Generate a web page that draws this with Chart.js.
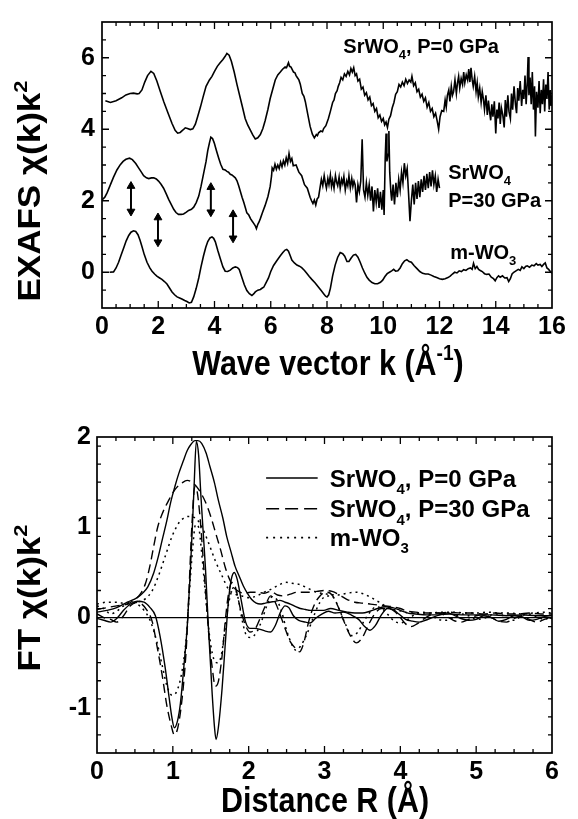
<!DOCTYPE html>
<html>
<head>
<meta charset="utf-8">
<script src="https://cdn.jsdelivr.net/npm/chart.js@4.4.1/dist/chart.umd.min.js"></script>
<style>
  html, body { margin: 0; padding: 0; background: #fff; }
  canvas { position: absolute; left: 0; }
</style>
</head>
<body>
<canvas id="exafs" width="578" height="410" style="top:0"></canvas>
<canvas id="ft" width="578" height="409" style="top:410px"></canvas>
<script>
// ---------------- DATA: top panel (k, chi(k)k^2 with offsets) ----------------
const exafsP0 = [
[0.12,4.80],[0.3,4.75],[0.5,4.80],[0.7,4.88],[0.85,4.96],[1.0,5.00],[1.12,5.01],[1.25,4.99],[1.32,5.00],[1.42,5.10],
[1.52,5.32],[1.62,5.50],[1.74,5.62],[1.84,5.56],[1.95,5.35],[2.07,5.06],[2.2,4.76],[2.35,4.45],[2.49,4.16],[2.6,3.97],
[2.69,3.89],[2.78,3.91],[2.88,3.98],[2.96,4.04],[3.04,4.02],[3.14,3.99],[3.23,4.01],[3.32,4.14],[3.4,4.35],[3.5,4.62],
[3.6,4.92],[3.7,5.2],[3.82,5.38],[3.91,5.48],[4.0,5.62],[4.1,5.76],[4.2,5.86],[4.3,5.95],[4.38,6.04],[4.44,6.12],
[4.52,6.07],[4.6,5.9],[4.7,5.6],[4.8,5.25],[4.92,4.86],[5.0,4.6],[5.09,4.3],[5.18,4.12],[5.27,3.98],[5.36,3.84],
[5.45,3.73],[5.54,3.76],[5.63,3.85],[5.72,4.02],[5.8,4.24],[5.9,4.56],[5.98,4.86],[6.07,5.12],[6.16,5.38],[6.25,5.52],
[6.34,5.6],[6.42,5.68],[6.51,5.74],[6.56,5.72],[6.6,5.8],[6.63,5.86],[6.67,5.76],[6.72,5.74],[6.81,5.6],[6.86,5.58],
[6.9,5.5],[6.95,5.44],[7.0,5.38],[7.05,5.26],[7.12,5.0],[7.18,4.92],[7.23,4.77],[7.32,4.4],[7.4,4.08],[7.48,3.86],
[7.55,3.76],[7.62,3.85],[7.66,3.82],[7.7,3.9],[7.78,3.95],[7.84,3.93],[7.88,4.02],[7.96,4.1],[8.05,4.3],[8.12,4.5],
[8.2,4.75],[8.25,4.82],[8.3,5.0],[8.36,5.08],[8.4,5.2],[8.45,5.3],
[8.5,5.45],[8.56,5.38],[8.62,5.55],[8.68,5.48],[8.74,5.62],[8.8,5.52],[8.85,5.7],[8.9,5.6],[8.95,5.72],[9.0,5.5],
[9.05,5.55],[9.1,5.35],[9.16,5.4],[9.22,5.12],[9.28,5.18],[9.34,4.95],[9.4,5.02],[9.46,4.82],[9.52,4.9],[9.58,4.66],
[9.64,4.72],[9.7,4.5],[9.76,4.58],[9.82,4.32],[9.88,4.4],[9.94,4.22],[10.0,4.3],[10.05,4.12],[10.1,4.2],[10.15,4.05],
[10.2,4.28],[10.26,4.38],[10.32,4.6],[10.38,4.75],[10.44,4.98],[10.5,5.05],[10.56,5.25],[10.62,5.18],[10.68,5.32],[10.74,5.22],
[10.8,5.4],[10.86,5.28],[10.92,5.38],[10.98,5.32],[11.02,5.48],[11.08,5.22],[11.14,5.3],[11.2,5.05],[11.26,5.12],[11.32,4.9],
[11.38,4.98],[11.44,4.78],[11.5,4.88],[11.56,4.62],[11.62,4.75],[11.68,4.5],[11.74,4.58],[11.8,4.35],[11.86,4.45],[11.92,4.22],
[11.97,4.0],[12.02,4.35],[12.08,4.52],
[12.15,4.5],[12.2,4.82],[12.24,4.62],[12.28,4.95],[12.33,5.1],[12.37,4.78],[12.42,5.2],[12.46,4.95],[12.5,5.05],[12.55,5.38],
[12.6,5.0],[12.64,5.3],[12.68,5.48],[12.72,5.15],[12.77,5.42],[12.82,5.25],[12.86,5.6],[12.9,5.3],[12.95,5.52],[13.0,5.38],
[13.04,5.68],[13.08,5.32],[13.12,5.72],[13.16,5.4],[13.2,5.2],[13.25,5.48],[13.3,5.05],[13.34,5.3],[13.38,4.9],[13.43,5.15],
[13.48,4.75],[13.52,5.05],[13.56,4.85],[13.6,4.55],[13.65,4.95],[13.7,4.4],[13.74,4.8],[13.78,4.5],[13.82,4.25],[13.86,4.7],
[13.9,4.35],[13.95,4.78],[14.0,3.88],[14.04,4.55],[14.08,4.3],[14.12,4.75],[14.16,4.15],[14.2,4.6],[14.25,4.4],[14.3,4.05],
[14.34,4.82],[14.38,4.35],[14.43,4.95],[14.47,4.5],[14.52,4.3],[14.56,5.0],[14.6,4.55],[14.65,5.2],[14.7,4.7],[14.74,4.45],
[14.78,5.15],[14.82,4.8],[14.87,5.35],[14.92,4.65],[14.96,5.1],[15.0,4.85],[15.04,5.5],[15.08,4.7],[15.12,5.3],[15.15,6.02],
[15.18,4.95],[15.22,5.45],[15.26,4.7],[15.3,5.6],[15.34,4.55],[15.38,5.2],[15.41,3.8],[15.45,5.05],[15.5,4.6],[15.54,5.35],
[15.58,4.45],[15.62,5.1],[15.66,4.7],[15.7,5.4],[15.74,4.5],[15.78,5.25],[15.82,4.85],[15.86,5.6],[15.9,4.55],[15.94,5.1],
[15.97,4.65],[16.0,4.95]
];
const exafsP30 = [
[0,2.02],[0.1,2.1],[0.18,2.22],[0.3,2.45],[0.41,2.66],[0.53,2.86],[0.65,3.01],[0.75,3.1],[0.85,3.16],[0.98,3.19],
[1.08,3.15],[1.2,3.04],[1.3,2.92],[1.4,2.8],[1.48,2.7],[1.58,2.64],[1.66,2.62],[1.76,2.64],[1.84,2.64],[1.93,2.61],
[2.01,2.55],[2.1,2.46],[2.19,2.35],[2.28,2.2],[2.37,2.04],[2.46,1.9],[2.55,1.76],[2.63,1.67],[2.72,1.62],[2.82,1.62],
[2.9,1.63],[3.0,1.68],[3.08,1.73],[3.18,1.76],[3.26,1.82],[3.35,1.95],[3.44,2.13],[3.52,2.4],[3.61,2.75],[3.7,3.1],
[3.76,3.4],[3.82,3.62],[3.87,3.78],[3.93,3.74],[3.99,3.62],[4.07,3.4],[4.15,3.19],[4.22,3.02],[4.3,2.88],[4.38,2.86],
[4.44,2.82],[4.5,2.8],[4.56,2.74],[4.62,2.72],[4.68,2.68],[4.74,2.64],[4.8,2.56],[4.86,2.42],[4.92,2.26],[4.98,2.1],
[5.04,1.96],[5.1,1.8],[5.15,1.66],[5.22,1.6],[5.28,1.5],[5.33,1.44],[5.4,1.36],[5.45,1.3],[5.49,1.22],[5.54,1.34],
[5.58,1.4],[5.63,1.5],[5.7,1.66],[5.8,1.87],[5.9,2.12],[5.98,2.4],[6.03,2.7],
[6.05,2.92],[6.1,2.85],[6.15,3.02],[6.2,2.88],[6.25,3.0],[6.3,2.9],[6.35,3.08],[6.4,2.95],[6.45,3.12],[6.5,3.0],
[6.55,3.2],[6.6,3.05],[6.65,3.32],[6.7,3.1],[6.75,3.18],[6.8,2.98],[6.9,3.0],[7.0,2.8],[7.1,2.7],[7.2,2.45],
[7.3,2.35],[7.4,2.1],[7.45,2.0],[7.5,1.92],[7.55,2.02],[7.6,1.88],[7.65,2.05],[7.7,2.1],[7.75,2.35],[7.8,2.6],
[7.85,2.42],[7.9,2.7],[7.94,2.5],[7.98,2.35],[8.03,2.62],[8.07,2.45],[8.12,2.72],[8.16,2.4],[8.2,2.58],[8.25,2.35],
[8.3,2.7],[8.34,2.52],[8.38,2.42],[8.43,2.66],[8.47,2.35],[8.52,2.6],[8.56,2.48],[8.6,2.68],[8.65,2.3],[8.7,2.55],
[8.74,2.42],[8.78,2.7],[8.83,2.36],[8.88,2.62],[8.92,2.4],[8.96,2.55],[9.0,2.45],[9.05,1.95],[9.1,2.45],[9.15,2.25],
[9.2,2.55],[9.25,3.72],[9.3,2.3],[9.35,2.1],[9.4,2.5],[9.45,2.15],[9.5,2.45],[9.55,2.0],[9.6,2.4],[9.65,1.7],
[9.7,2.3],[9.75,1.95],[9.8,2.35],[9.85,1.8],[9.9,2.25],[9.95,1.75],[10.0,2.3],[10.03,1.6],[10.07,3.2],[10.1,3.88],
[10.13,3.1],[10.17,3.3],[10.2,3.95],[10.23,2.8],[10.27,2.25],[10.3,2.0],[10.35,2.45],[10.4,1.9],[10.45,2.5],[10.5,2.1],
[10.55,2.6],[10.6,2.3],[10.65,2.8],[10.7,2.5],[10.75,3.05],[10.8,2.7],[10.85,2.9],[10.9,2.2],[10.95,1.43],[11.0,2.0],
[11.05,2.45],[11.1,1.9],[11.15,2.5],[11.2,2.05],[11.25,2.55],[11.3,2.1],[11.35,2.6],[11.4,2.25],[11.45,2.7],[11.5,2.3],
[11.55,2.75],[11.6,2.35],[11.65,2.8],[11.7,2.4],[11.75,2.85],[11.8,2.45],[11.85,2.7],[11.9,2.25],[11.95,2.6],[12.0,2.35]
];
const exafsWO3 = [
[0.27,0],[0.41,0.01],[0.5,0.12],[0.59,0.28],[0.68,0.48],[0.77,0.68],[0.86,0.88],[0.95,1.03],[1.03,1.12],[1.12,1.16],
[1.2,1.14],[1.28,1.05],[1.35,0.9],[1.42,0.72],[1.5,0.5],[1.6,0.28],[1.7,0.12],[1.78,0.03],[1.87,-0.05],[1.95,-0.11],
[2.05,-0.16],[2.13,-0.2],[2.22,-0.26],[2.31,-0.33],[2.4,-0.44],[2.49,-0.55],[2.58,-0.63],[2.67,-0.69],[2.76,-0.72],[2.84,-0.75],
[2.94,-0.79],[3.02,-0.82],[3.1,-0.86],[3.18,-0.84],[3.26,-0.69],[3.35,-0.45],[3.44,-0.16],[3.52,0.15],[3.61,0.46],[3.69,0.7],
[3.76,0.86],[3.84,0.96],[3.91,0.99],[3.97,0.95],[4.03,0.85],[4.12,0.6],[4.21,0.37],[4.3,0.15],[4.38,0.03],[4.47,0.02],
[4.56,0.06],[4.65,0.12],[4.74,0.15],[4.82,0.13],[4.88,0.08],[4.98,-0.16],[5.06,-0.35],[5.15,-0.51],[5.24,-0.6],[5.33,-0.65],
[5.4,-0.6],[5.45,-0.55],[5.54,-0.5],[5.63,-0.48],[5.7,-0.44],[5.75,-0.42],[5.83,-0.3],[5.92,-0.16],[6.0,0.02],[6.1,0.19],
[6.22,0.33],[6.34,0.46],[6.43,0.55],[6.51,0.62],[6.57,0.64],[6.63,0.59],[6.7,0.45],[6.75,0.34],[6.84,0.26],[6.93,0.2],
[7.02,0.17],[7.1,0.13],[7.2,0.05],[7.28,-0.03],[7.37,-0.12],[7.46,-0.2],[7.58,-0.3],[7.7,-0.42],[7.8,-0.52],[7.88,-0.6],
[7.95,-0.67],[8.0,-0.69],[8.06,-0.63],[8.12,-0.45],[8.2,-0.1],[8.29,0.2],[8.38,0.42],[8.47,0.55],[8.56,0.52],[8.63,0.45],
[8.71,0.3],[8.78,0.3],[8.86,0.4],[8.94,0.48],[9.02,0.5],[9.1,0.42],[9.18,0.28],[9.26,0.12],[9.34,-0.02],[9.42,-0.14],
[9.5,-0.22],[9.6,-0.29],[9.7,-0.32],[9.8,-0.32],[9.9,-0.28],[9.98,-0.22],[10.06,-0.12],[10.14,-0.04],[10.22,0.0],[10.3,0.04],
[10.37,0.08],[10.44,0.03],[10.52,0.04],[10.6,0.12],[10.68,0.24],[10.76,0.32],[10.84,0.35],[10.92,0.3],[11.0,0.28],[11.1,0.18],
[11.2,0.1],[11.3,0.02],[11.4,-0.03],[11.5,-0.05],[11.6,-0.05],[11.7,-0.08],[11.8,-0.12],[11.9,-0.15],[12.0,-0.18],[12.1,-0.2],
[12.2,-0.18],[12.3,-0.15],[12.38,-0.11],[12.46,-0.05],[12.54,0.0],[12.62,-0.02],[12.7,0.04],[12.78,0.02],[12.86,0.07],[12.94,0.05],
[13.02,0.1],[13.1,0.12],[13.16,0.08],[13.21,0.25],[13.27,0.1],[13.33,0.16],[13.39,0.08],[13.45,0.05],[13.52,0.02],[13.6,-0.04],
[13.68,-0.06],[13.76,-0.05],[13.84,-0.14],[13.92,-0.18],[13.98,-0.24],[14.04,-0.15],[14.1,-0.1],[14.16,-0.14],[14.24,-0.1],[14.32,-0.16],
[14.4,-0.15],[14.46,-0.26],[14.52,-0.18],[14.58,-0.05],[14.64,0.0],[14.72,0.04],[14.8,0.08],[14.87,0.05],[14.93,0.15],[15.0,0.1],
[15.06,0.16],[15.12,0.18],[15.2,0.14],[15.28,0.2],[15.36,0.18],[15.44,0.24],[15.5,0.2],[15.58,0.22],[15.64,0.16],[15.7,0.22],
[15.76,0.26],[15.82,0.12],[15.88,0.08],[15.94,0.02],[16.0,-0.03]
];
// double-headed arrows: k position, lower tip, upper tip
const arrowK    = [1.03, 1.99, 3.87, 4.66];
const arrowLow  = [1.58, 0.72, 1.56, 0.83];
const arrowHigh = [2.53, 1.65, 2.50, 1.74];
const topXTicks = [0, 2, 4, 6, 8, 10, 12, 14, 16];
const topYTicks = [0, 2, 4, 6];

// ---------------- DATA: bottom panel (R, FT modulus and imaginary part) ----------------
const ftP0Mag = [
[0,0.06],[0.13,0.08],[0.26,0.11],[0.4,0.17],[0.53,0.22],[0.6,0.27],[0.67,0.34],[0.75,0.5],[0.81,0.68],[0.86,0.86],
[0.92,1.07],[0.97,1.27],[1.03,1.46],[1.08,1.6],[1.14,1.74],[1.19,1.85],[1.24,1.92],[1.29,1.96],[1.33,1.96],[1.38,1.93],
[1.44,1.82],[1.49,1.67],[1.55,1.49],[1.6,1.3],[1.66,1.1],[1.71,0.9],[1.77,0.72],[1.82,0.57],[1.88,0.45],[1.93,0.35],
[1.99,0.26],[2.04,0.2],[2.1,0.16],[2.15,0.15],[2.22,0.16],[2.28,0.17],[2.35,0.18],[2.41,0.19],[2.48,0.17],[2.55,0.15],
[2.62,0.12],[2.68,0.1],[2.75,0.09],[2.81,0.08],[2.9,0.08],[2.99,0.08],[3.08,0.1],[3.19,0.08],[3.3,0.06],[3.4,0.05],
[3.5,0.05],[3.6,0.07],[3.7,0.1],[3.8,0.12],[3.9,0.11],[4.0,0.08],[4.1,0.05],[4.2,0.04],[4.35,0.03],[4.5,0.03],
[4.65,0.04],[4.8,0.03],[5.0,0.03],[5.2,0.03],[5.4,0.02],[5.6,0.03],[5.8,0.02],[6.0,0.02]
];
const ftP0Im = [
[0,-0.01],[0.09,-0.03],[0.18,-0.05],[0.26,-0.01],[0.35,0.08],[0.44,0.15],[0.53,0.18],[0.62,0.17],[0.7,0.11],[0.77,0.02],
[0.83,-0.2],[0.9,-0.56],[0.95,-0.88],[0.99,-1.12],[1.02,-1.22],[1.06,-1.15],[1.1,-0.95],[1.15,-0.5],[1.19,-0.1],[1.23,0.5],
[1.26,1.05],[1.28,1.45],[1.31,1.95],[1.34,1.8],[1.37,1.35],[1.4,0.95],[1.43,0.55],[1.47,-0.12],[1.52,-0.86],[1.55,-1.22],
[1.57,-1.35],[1.6,-1.22],[1.65,-0.78],[1.69,-0.31],[1.73,0.15],[1.77,0.42],[1.81,0.5],[1.85,0.42],[1.9,0.2],[1.96,-0.05],
[2.02,-0.12],[2.08,-0.12],[2.15,-0.13],[2.22,-0.15],[2.29,-0.16],[2.35,-0.09],[2.42,0.06],[2.48,0.13],[2.53,0.11],[2.59,0.02],
[2.66,-0.03],[2.75,-0.05],[2.81,-0.06],[2.88,-0.01],[2.97,0.04],[3.05,0.07],[3.14,0.05],[3.25,0.06],[3.35,0.03],[3.45,-0.02],
[3.53,-0.1],[3.6,-0.14],[3.67,-0.09],[3.75,0.03],[3.83,0.1],[3.9,0.09],[3.98,0.04],[4.07,-0.02],[4.16,-0.04],[4.25,-0.05],
[4.33,-0.03],[4.42,0.0],[4.52,0.03],[4.62,0.05],[4.7,0.03],[4.8,-0.01],[4.9,-0.03],[5.0,-0.02],[5.1,0.02],[5.2,0.0],
[5.3,-0.04],[5.4,-0.02],[5.5,0.02],[5.6,0.01],[5.7,-0.03],[5.8,-0.02],[5.9,0.01],[6.0,-0.01]
];
const ftP30Mag = [
[0,0.09],[0.13,0.11],[0.26,0.13],[0.4,0.15],[0.48,0.19],[0.57,0.26],[0.64,0.38],[0.7,0.58],[0.75,0.8],[0.8,1.0],
[0.86,1.15],[0.94,1.29],[1.03,1.42],[1.12,1.49],[1.19,1.52],[1.25,1.5],[1.34,1.42],[1.43,1.28],[1.5,1.12],[1.57,0.92],
[1.63,0.75],[1.69,0.56],[1.75,0.42],[1.82,0.32],[1.89,0.28],[1.95,0.27],[2.02,0.28],[2.11,0.28],[2.2,0.27],[2.29,0.29],
[2.38,0.25],[2.46,0.24],[2.55,0.26],[2.64,0.28],[2.77,0.28],[2.9,0.29],[3.0,0.3],[3.1,0.29],[3.2,0.25],[3.3,0.2],
[3.4,0.17],[3.5,0.16],[3.6,0.15],[3.7,0.14],[3.8,0.13],[3.9,0.12],[4.0,0.1],[4.1,0.07],[4.2,0.06],[4.35,0.05],
[4.5,0.05],[4.65,0.06],[4.8,0.05],[4.95,0.05],[5.1,0.04],[5.25,0.05],[5.4,0.04],[5.55,0.04],[5.7,0.05],[5.85,0.04],[6.0,0.04]
];
const ftP30Im = [
[0,0.04],[0.09,0.0],[0.18,-0.02],[0.26,-0.05],[0.35,0.02],[0.44,0.13],[0.53,0.17],[0.59,0.15],[0.66,0.08],[0.73,-0.05],
[0.79,-0.31],[0.86,-0.64],[0.92,-0.97],[0.98,-1.2],[1.02,-1.3],[1.06,-1.24],[1.1,-1.05],[1.14,-0.75],[1.18,-0.3],[1.21,0.24],
[1.25,1.0],[1.29,1.45],[1.32,1.4],[1.36,1.1],[1.4,0.65],[1.44,0.2],[1.48,-0.25],[1.52,-0.56],[1.56,-0.76],[1.6,-0.71],
[1.65,-0.42],[1.69,-0.05],[1.73,0.24],[1.78,0.39],[1.82,0.35],[1.89,0.1],[1.96,-0.09],[2.02,-0.16],[2.09,-0.12],[2.15,-0.01],
[2.22,0.13],[2.29,0.24],[2.35,0.17],[2.42,0.02],[2.48,-0.12],[2.55,-0.27],[2.62,-0.34],[2.67,-0.38],[2.73,-0.27],[2.79,-0.05],
[2.86,0.13],[2.94,0.24],[3.03,0.28],[3.1,0.25],[3.18,0.12],[3.26,-0.05],[3.34,-0.2],[3.42,-0.28],[3.5,-0.22],[3.58,-0.08],
[3.67,0.05],[3.75,0.1],[3.83,0.1],[3.92,0.07],[4.0,0.0],[4.07,-0.07],[4.14,-0.1],[4.22,-0.07],[4.3,-0.02],[4.4,0.03],
[4.5,0.05],[4.6,0.02],[4.7,-0.03],[4.8,-0.05],[4.9,-0.02],[5.0,0.02],[5.1,0.03],[5.2,0.0],[5.3,-0.04],[5.4,-0.05],
[5.5,-0.01],[5.6,0.02],[5.7,-0.02],[5.8,-0.05],[5.9,-0.02],[6.0,0.0]
];
const ftWO3Mag = [
[0,0.15],[0.13,0.17],[0.26,0.17],[0.4,0.15],[0.53,0.17],[0.64,0.21],[0.73,0.3],[0.81,0.46],[0.9,0.68],[0.99,0.9],
[1.08,1.05],[1.14,1.1],[1.21,1.12],[1.3,1.1],[1.38,1.01],[1.47,0.83],[1.56,0.63],[1.65,0.46],[1.73,0.32],[1.82,0.26],
[1.91,0.24],[2.0,0.22],[2.11,0.24],[2.2,0.28],[2.31,0.32],[2.42,0.37],[2.5,0.39],[2.57,0.38],[2.66,0.37],[2.77,0.33],
[2.9,0.28],[3.03,0.26],[3.17,0.25],[3.3,0.27],[3.42,0.28],[3.52,0.26],[3.62,0.22],[3.72,0.17],[3.82,0.12],[3.92,0.09],
[4.02,0.07],[4.12,0.05],[4.25,0.05],[4.4,0.05],[4.55,0.06],[4.7,0.06],[4.85,0.05],[5.0,0.05],[5.15,0.06],[5.3,0.05],
[5.45,0.05],[5.6,0.04],[5.75,0.05],[5.9,0.06],[6.0,0.05]
];
const ftWO3Im = [
[0,0.13],[0.09,0.1],[0.18,0.04],[0.26,0.07],[0.35,0.13],[0.44,0.17],[0.53,0.15],[0.62,0.08],[0.7,-0.03],[0.79,-0.27],
[0.86,-0.53],[0.92,-0.75],[0.99,-0.86],[1.05,-0.82],[1.12,-0.6],[1.18,-0.2],[1.22,0.3],[1.26,0.75],[1.3,1.03],[1.34,1.0],
[1.38,0.72],[1.42,0.35],[1.46,-0.02],[1.5,-0.3],[1.54,-0.46],[1.58,-0.5],[1.63,-0.45],[1.67,-0.25],[1.71,0.02],[1.76,0.25],
[1.8,0.33],[1.86,0.22],[1.91,-0.01],[1.96,-0.18],[2.02,-0.22],[2.1,-0.17],[2.17,-0.04],[2.24,0.13],[2.31,0.23],[2.37,0.2],
[2.44,0.05],[2.5,-0.14],[2.57,-0.3],[2.62,-0.36],[2.68,-0.32],[2.77,-0.18],[2.86,0.02],[2.94,0.17],[3.03,0.24],[3.12,0.22],
[3.2,0.08],[3.28,-0.08],[3.36,-0.2],[3.44,-0.16],[3.52,-0.04],[3.6,0.06],[3.68,0.12],[3.76,0.1],[3.84,0.03],[3.92,-0.04],
[4.0,-0.06],[4.1,-0.02],[4.2,0.04],[4.3,0.06],[4.4,0.03],[4.5,-0.02],[4.6,-0.03],[4.7,0.0],[4.8,0.04],[4.9,0.02],
[5.0,-0.02],[5.1,-0.01],[5.2,0.03],[5.3,0.04],[5.4,0.0],[5.5,-0.03],[5.6,0.02],[5.7,0.04],[5.8,0.01],[5.9,-0.02],[6.0,0.03]
];
const zeroLine = [[0,0],[6,0]];
const botXTicks = [0, 1, 2, 3, 4, 5, 6];
const botYTicks = [-1, 0, 1, 2];

// ---------------- texts ----------------
const seriesNames = [
  [['SrWO',0],['4',1],[', P=0 GPa',0]],
  [['SrWO',0],['4',1],[', P=30 GPa',0]],
  [['m-WO',0],['3',1]]
];
const topLabelTexts = [
  [['SrWO',0],['4',1],[', P=0 GPa',0]],
  [['SrWO',0],['4',1]],
  [['P=30 GPa',0]],
  [['m-WO',0],['3',1]]
];

// ---------------- helpers ----------------
const FONT = '"Liberation Sans", Arial, Helvetica, sans-serif';
const toXY = arr => arr.map(p => ({x: p[0], y: p[1]}));

function drawRich(ctx, segs, x, y, size, align) {
  const f = m => `bold ${m ? Math.round(size * 0.64) : size}px ${FONT}`;
  let w = 0;
  segs.forEach(([t, m]) => { ctx.font = f(m); w += ctx.measureText(t).width; });
  let cx = align === 'center' ? x - w / 2 : x;
  ctx.textAlign = 'left';
  ctx.textBaseline = 'alphabetic';
  segs.forEach(([t, m]) => {
    ctx.font = f(m);
    const dy = m === 1 ? size * 0.3 : (m === 2 ? -size * 0.42 : 0);
    ctx.fillText(t, cx, y + dy);
    cx += ctx.measureText(t).width;
  });
}

const deco = {
  id: 'deco',
  afterDatasetsDraw(chart, args, o) {
    const {ctx, chartArea: a} = chart;
    const xs = chart.scales.x, ys = chart.scales.y;
    ctx.save();
    ctx.strokeStyle = '#000';
    ctx.fillStyle = '#000';
    ctx.setLineDash([]);
    // frame
    ctx.lineWidth = 1.7;
    ctx.strokeRect(a.left, a.top, a.right - a.left, a.bottom - a.top);
    // inward ticks
    ctx.lineWidth = 1.3;
    ctx.beginPath();
    const isMajor = (v, m) => Math.abs(v / m - Math.round(v / m)) < 1e-6;
    const nx = Math.round((xs.max - xs.min) / o.xMinor);
    for (let i = 1; i < nx; i++) {
      const v = xs.min + i * o.xMinor;
      const len = isMajor(v, o.xMajor) ? 7 : 4;
      const px = xs.getPixelForValue(v);
      ctx.moveTo(px, a.bottom); ctx.lineTo(px, a.bottom - len);
      ctx.moveTo(px, a.top); ctx.lineTo(px, a.top + len);
    }
    const ny = Math.round((ys.max - ys.min) / o.yMinor);
    for (let i = 1; i < ny; i++) {
      const v = ys.min + i * o.yMinor;
      const len = isMajor(v, o.yMajor) ? 7 : 4;
      const py = ys.getPixelForValue(v);
      ctx.moveTo(a.left, py); ctx.lineTo(a.left + len, py);
      ctx.moveTo(a.right, py); ctx.lineTo(a.right - len, py);
    }
    ctx.stroke();
    // in-plot labels
    (o.labels || []).forEach(l => {
      drawRich(ctx, l.segs, xs.getPixelForValue(l.x), ys.getPixelForValue(l.y), l.size, 'left');
    });
    // legend
    if (o.legend) {
      const L = o.legend;
      const x0 = xs.getPixelForValue(L.lineFrom), x1 = xs.getPixelForValue(L.lineTo);
      const xt = xs.getPixelForValue(L.textAt);
      L.rows.forEach(r => {
        const py = ys.getPixelForValue(r.y);
        ctx.save();
        ctx.lineWidth = r.width;
        ctx.setLineDash(r.dash);
        ctx.beginPath(); ctx.moveTo(x0, py); ctx.lineTo(x1, py); ctx.stroke();
        ctx.restore();
        drawRich(ctx, r.segs, xt, py + L.size * 0.36, L.size, 'left');
      });
    }
    // axis titles (slightly condensed like the original lettering)
    const t = o.titles;
    ctx.save();
    ctx.translate(t.x.cx, t.x.base);
    ctx.scale(t.squeeze, 1);
    drawRich(ctx, t.x.segs, 0, 0, t.size, 'center');
    ctx.restore();
    ctx.save();
    ctx.translate(t.y.base, t.y.cy);
    ctx.scale(t.squeeze, 1);
    ctx.rotate(-Math.PI / 2);
    drawRich(ctx, t.y.segs, 0, 0, t.size, 'center');
    ctx.restore();
    ctx.restore();
  }
};

const tickFont = {family: FONT, size: 25, weight: 'bold'};
function axis(min, max, ticks, pad, fitKey, fitVal) {
  return {
    type: 'linear', min, max,
    grid: {display: false, drawTicks: false},
    border: {display: false},
    ticks: {color: '#000', font: tickFont, padding: pad, autoSkip: false, maxRotation: 0},
    afterBuildTicks: s => { s.ticks = ticks.map(v => ({value: v})); },
    afterFit: s => { s[fitKey] = fitVal; }
  };
}

Chart.defaults.font.family = FONT;

// ---------------- top chart ----------------
const lineDS = (data, extra) => Object.assign({
  data: toXY(data), showLine: true, pointRadius: 0, borderColor: '#000',
  borderWidth: 1.6, tension: 0, fill: false
}, extra || {});

const arrowDS = arrowK.map((k, i) => ({
  data: [{x: k, y: arrowLow[i] + 0.12}, {x: k, y: arrowHigh[i] - 0.12}],
  showLine: true, borderColor: '#000', borderWidth: 2,
  pointStyle: 'triangle', pointRadius: 4.5, pointRotation: [180, 0],
  pointBackgroundColor: '#000', pointBorderColor: '#000', pointBorderWidth: 1
}));

new Chart(document.getElementById('exafs'), {
  type: 'scatter',
  data: {
    datasets: [lineDS(exafsP0), lineDS(exafsP30), lineDS(exafsWO3)].concat(arrowDS)
  },
  options: {
    responsive: false, animation: false, devicePixelRatio: 1, events: [],
    layout: {padding: {left: 0, right: 26, top: 5, bottom: 0}},
    scales: {
      x: axis(0, 16, topXTicks, 4, 'height', 102),
      y: axis(-1, 7, topYTicks, 7, 'width', 102)
    },
    plugins: {
      legend: {display: false}, tooltip: {enabled: false},
      deco: {
        xMinor: 0.5, xMajor: 2, yMinor: 0.5, yMajor: 2,
        labels: [
          {segs: topLabelTexts[0], x: 8.58, y: 6.13, size: 20},
          {segs: topLabelTexts[1], x: 12.31, y: 2.61, size: 20},
          {segs: topLabelTexts[2], x: 12.31, y: 1.82, size: 20},
          {segs: topLabelTexts[3], x: 12.38, y: 0.36, size: 20}
        ],
        titles: {
          size: 35, squeeze: 0.87,
          x: {segs: [['Wave vector k (Å',0],['-1',2],[')',0]], cx: 328, base: 375},
          y: {segs: [['EXAFS χ(k)k',0],['2',2]], cy: 191, base: 40}
        }
      }
    }
  },
  plugins: [deco]
});

// ---------------- bottom chart ----------------
const ftDS = (data, dash, w) => ({
  data: toXY(data), showLine: true, pointRadius: 0, borderColor: '#000',
  borderWidth: w, borderDash: dash, cubicInterpolationMode: 'monotone', fill: false
});

new Chart(document.getElementById('ft'), {
  type: 'scatter',
  data: {
    datasets: [
      ftDS(zeroLine, [], 1.2),
      ftDS(ftWO3Mag, [2, 4], 1.5),
      ftDS(ftWO3Im, [2, 4], 1.5),
      ftDS(ftP30Mag, [9, 5], 1.4),
      ftDS(ftP30Im, [9, 5], 1.4),
      ftDS(ftP0Mag, [], 1.4),
      ftDS(ftP0Im, [], 1.4)
    ]
  },
  options: {
    responsive: false, animation: false, devicePixelRatio: 1, events: [],
    layout: {padding: {left: 0, right: 26, top: 27, bottom: 0}},
    scales: {
      x: axis(0, 6, botXTicks, 4, 'height', 66),
      y: axis(-1.5, 2, botYTicks, 6, 'width', 97)
    },
    plugins: {
      legend: {display: false}, tooltip: {enabled: false},
      deco: {
        xMinor: 0.25, xMajor: 1, yMinor: 0.2, yMajor: 1,
        legend: {
          lineFrom: 2.23, lineTo: 2.91, textAt: 3.07, size: 24,
          rows: [
            {segs: seriesNames[0], y: 1.546, dash: [], width: 1.6},
            {segs: seriesNames[1], y: 1.205, dash: [13, 6], width: 1.6},
            {segs: seriesNames[2], y: 0.886, dash: [2, 5], width: 1.8}
          ]
        },
        titles: {
          size: 35, squeeze: 0.87,
          x: {segs: [['Distance R (Å)',0]], cx: 325, base: 402},
          y: {segs: [['FT χ(k)k',0],['2',2]], cy: 188, base: 40}
        }
      }
    }
  },
  plugins: [deco]
});
</script>
</body>
</html>
